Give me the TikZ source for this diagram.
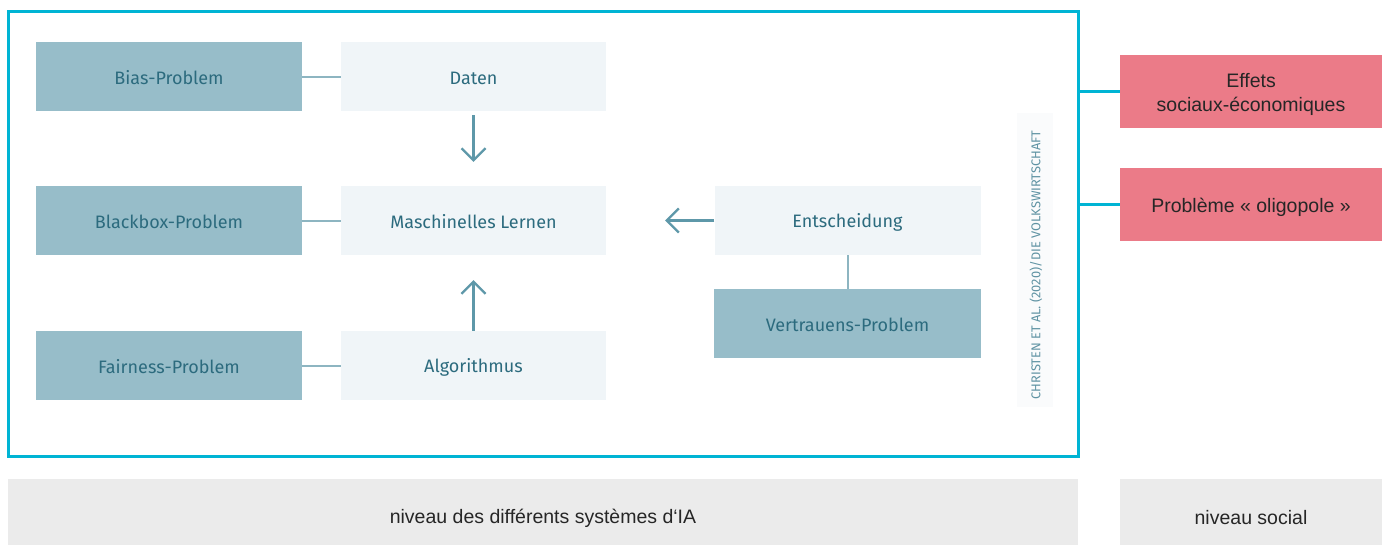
\documentclass[tikz,border=0pt]{standalone}
\usepackage{fontspec}
\setmainfont{Liberation Sans}
\newfontfamily\boxfont{Fira Sans}
\usetikzlibrary{arrows.meta}
\definecolor{frame}{HTML}{00B4D4}
\definecolor{darkbox}{HTML}{97BDC9}
\definecolor{lightbox}{HTML}{F0F5F8}
\definecolor{boxtext}{HTML}{2C6B7E}
\definecolor{link}{HTML}{8DB5C1}
\definecolor{arrowc}{HTML}{5E98A9}
\definecolor{pink}{HTML}{EB7B88}
\definecolor{greybar}{HTML}{EBEBEB}
\definecolor{credit}{HTML}{5F93A3}
\definecolor{creditbg}{HTML}{FAFBFC}
\tikzset{
  probbox/.style={fill=darkbox, minimum width=266pt, minimum height=69pt, inner sep=0pt, font=\boxfont\fontsize{18}{21}\selectfont, text=boxtext},
  stepbox/.style={fill=lightbox, minimum width=265pt, minimum height=69pt, inner sep=0pt, font=\boxfont\fontsize{18}{21}\selectfont, text=boxtext},
  linkline/.style={draw=link, line width=2pt},
  flowarrow/.style={draw=arrowc, line width=2.2pt, -{Straight Barb[length=12pt,width=24pt,line width=2.2pt]}},
  pinkbox/.style={fill=pink, minimum width=262pt, minimum height=73pt, inner sep=0pt, font=\fontsize{19.5}{24}\selectfont, text=black!85},
  barbox/.style={fill=greybar, minimum height=66pt, inner sep=0pt, font=\fontsize{19.5}{23}\selectfont, text=black!85},
  framelink/.style={draw=frame, line width=3pt}
}
\newcommand{\dn}[2]{\raisebox{-#1pt}[\height][\depth]{#2}}
\begin{document}
\begin{tikzpicture}[x=1pt,y=-1pt]
\useasboundingbox (0,0) rectangle (1389,544);
\fill[white] (0,0) rectangle (1389,544);
% outer frame
\node[draw=frame, line width=3pt, minimum width=1070pt, minimum height=445pt, inner sep=0pt] (frame) at (543,234) {};
% credit background
\fill[creditbg] (1017,113) rectangle (1053,407);
\node[rotate=90, font=\fontsize{12.8}{15}\selectfont\boxfont, text=credit] (credit) at (1036,265) {CHRISTEN ET AL. (2020)/DIE VOLKSWIRTSCHAFT};
% boxes
\node[probbox] (bias) at (169,76.5) {\dn{1.5}{Bias-Problem}};
\node[stepbox] (daten) at (473.5,76.5) {\dn{1.5}{Daten}};
\node[probbox] (black) at (169,220.5) {\dn{1}{Blackbox-Problem}};
\node[stepbox] (ml) at (473.5,220.5) {\dn{1}{Maschinelles Lernen}};
\node[probbox] (fair) at (169,365.5) {\dn{1.5}{Fairness-Problem}};
\node[stepbox] (algo) at (473.5,365.5) {\dn{2}{Algorithmus}};
\node[stepbox, minimum width=266pt] (ent) at (847.5,220.5) {\dn{1.5}{Entscheidung}};
\node[probbox, minimum width=267pt] (vert) at (847.5,323.5) {\dn{1}{Vertrauens-Problem}};
% links
\draw[linkline] (bias) -- (daten);
\draw[linkline] (black) -- (ml);
\draw[linkline] (fair) -- (algo);
\draw[linkline] (ent) -- (vert);
% arrows
\draw[flowarrow, shorten <=4pt, shorten >=24pt] (daten) -- (ml);
\draw[flowarrow, shorten >=25pt] (algo) -- (ml);
\draw[flowarrow, shorten >=59pt] (ent) -- (ml);
% social level boxes
\node[pinkbox] (effets) at (1251,91.5) {\dn{3}{\begin{tabular}{@{}c@{}}Effets\\sociaux-économiques\end{tabular}}};
\node[pinkbox] (oligo) at (1251,204.5) {\dn{3}{Problème « oligopole »}};
\coordinate (f1) at (1078,91.5);
\coordinate (f2) at (1078,204.5);
\draw[framelink] (f1) -- (effets.west);
\draw[framelink] (f2) -- (oligo.west);
% bottom bars
\node[barbox, minimum width=1070pt] (lvl1) at (543,511.5) {\dn{6.5}{niveau des différents systèmes d‘IA}};
\node[barbox, minimum width=262pt] (lvl2) at (1251,511.5) {\dn{6}{niveau social}};
\end{tikzpicture}
\end{document}
